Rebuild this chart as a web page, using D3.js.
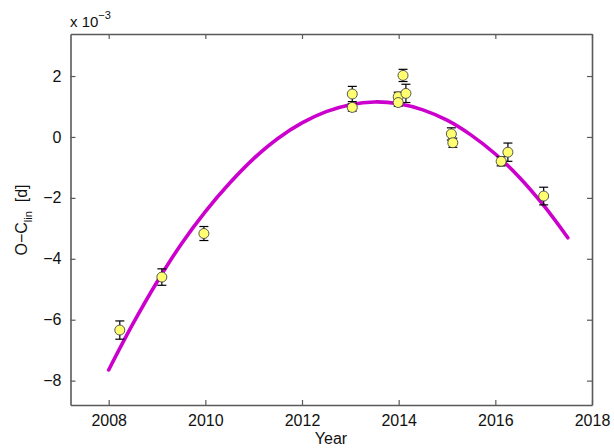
<!DOCTYPE html>
<html>
<head>
<meta charset="utf-8">
<script src="https://cdn.jsdelivr.net/npm/d3@7"></script>
<style>
  html, body { margin: 0; padding: 0; background: #fff; }
  svg { display: block; font-family: "Liberation Sans", Arial, Helvetica, sans-serif; }
</style>
</head>
<body>
<svg id="chart" width="614" height="448"></svg>
<script>
// Observed minima: epoch (year) and O−C residual in units of 1e-3 d
const obsYear = [2008.23, 2009.10, 2009.97, 2013.04, 2013.04, 2013.99, 2013.99, 2014.09, 2014.15, 2015.09, 2015.12, 2016.12, 2016.26, 2017.00];
const obsOC   = [-6.34, -4.60, -3.17, 1.41, 0.97, 1.32, 1.13, 2.02, 1.43, 0.10, -0.19, -0.80, -0.50, -1.94];
const obsErr  = [0.30, 0.27, 0.23, 0.25, 0.12, 0.15, 0.12, 0.20, 0.30, 0.20, 0.15, 0.15, 0.30, 0.29];

// Fitted quadratic ephemeris, sampled along the drawn curve
const fitYear = [2008.0, 2008.5, 2009.0, 2009.5, 2010.0, 2010.5, 2011.0, 2011.5, 2012.0, 2012.5, 2013.0, 2013.5, 2014.0, 2014.5, 2015.0, 2015.5, 2016.0, 2016.5, 2017.0, 2017.5];
const fitOC   = [-7.65, -6.14, -4.76, -3.52, -2.45, -1.52, -0.71, -0.05, 0.46, 0.83, 1.06, 1.15, 1.09, 0.89, 0.55, 0.06, -0.56, -1.33, -2.25, -3.31];

const xTicks = [2008, 2010, 2012, 2014, 2016, 2018];
const yTicks = [-8, -6, -4, -2, 0, 2];

const svg = d3.select("#chart");
const L = 70.5, R = 592, T = 34, B = 405;

const x = d3.scaleLinear().domain([2007.21, 2018]).range([L, R]);
const y = d3.scaleLinear().domain([-8.8, 3.38]).range([B, T]);

const axisColor = "#5a5a5a";
const fontSize = 16;
const minus = v => String(v).replace("-", "\u2212");

// Axes box with inward ticks on all four sides
const gx = svg.append("g").attr("transform", `translate(0,${B})`)
  .call(d3.axisBottom(x).tickValues(xTicks).tickSizeInner(-5).tickSizeOuter(0).tickPadding(10).tickFormat(d3.format("d")));
const gxTop = svg.append("g").attr("transform", `translate(0,${T})`)
  .call(d3.axisTop(x).tickValues(xTicks).tickSizeInner(-5).tickSizeOuter(0).tickFormat(""));
const gy = svg.append("g").attr("transform", `translate(${L},0)`)
  .call(d3.axisLeft(y).tickValues(yTicks).tickSizeInner(-5).tickSizeOuter(0).tickPadding(9).tickFormat(minus));
const gyRight = svg.append("g").attr("transform", `translate(${R},0)`)
  .call(d3.axisRight(y).tickValues(yTicks).tickSizeInner(-5).tickSizeOuter(0).tickFormat(""));

[gx, gxTop, gy, gyRight].forEach(g => {
  g.selectAll(".domain").attr("stroke", axisColor).attr("stroke-width", 1.6);
  g.selectAll(".tick line").attr("stroke", axisColor).attr("stroke-width", 1.2);
  g.selectAll(".tick text").attr("fill", "#111").style("font-size", fontSize + "px");
});

// Fitted curve
const line = d3.line().x((d, i) => x(fitYear[i])).y(d => y(d)).curve(d3.curveCatmullRom);
svg.append("path")
  .attr("d", line(fitOC))
  .attr("fill", "none")
  .attr("stroke", "#cc00cc")
  .attr("stroke-width", 3.6)
  .attr("stroke-linecap", "round");

// Error bars
const pts = obsYear.map((t, i) => ({ t, v: obsOC[i], e: obsErr[i] }));
const eb = svg.append("g").attr("stroke", "#000").attr("stroke-width", 1.2);
pts.forEach(p => {
  const cx = x(p.t);
  eb.append("line").attr("x1", cx).attr("x2", cx).attr("y1", y(p.v + p.e)).attr("y2", y(p.v - p.e));
  eb.append("line").attr("x1", cx - 4.5).attr("x2", cx + 4.5).attr("y1", y(p.v + p.e)).attr("y2", y(p.v + p.e));
  eb.append("line").attr("x1", cx - 4.5).attr("x2", cx + 4.5).attr("y1", y(p.v - p.e)).attr("y2", y(p.v - p.e));
});

// Markers
svg.append("g").selectAll("circle").data(pts).join("circle")
  .attr("cx", d => x(d.t)).attr("cy", d => y(d.v)).attr("r", 5)
  .attr("fill", "#ffff70").attr("stroke", "#444").attr("stroke-width", 0.9);

// Exponent label
const ex = svg.append("text").attr("x", 70).attr("y", 27).attr("fill", "#111").style("font-size", "15px");
ex.append("tspan").text("x 10");
ex.append("tspan").attr("dy", -8).style("font-size", "11px").text("\u22123");

// Axis titles
svg.append("text").attr("x", 331).attr("y", 444).attr("text-anchor", "middle")
  .attr("fill", "#111").style("font-size", "16px").text("Year");

const yl = svg.append("text").attr("transform", "translate(27,220) rotate(-90)")
  .attr("text-anchor", "middle").attr("fill", "#111").style("font-size", "16px");
yl.append("tspan").text("O\u2212C");
yl.append("tspan").attr("dy", 5).style("font-size", "11px").text("lin");
yl.append("tspan").attr("dy", -5).text("  [d]").attr("xml:space", "preserve");
</script>
</body>
</html>
